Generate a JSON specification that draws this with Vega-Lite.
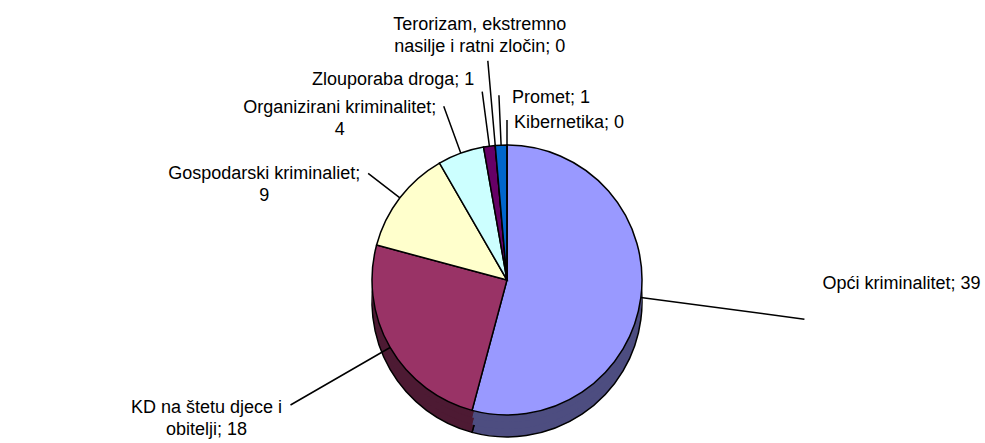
{
  "$schema": "https://vega.github.io/schema/vega-lite/v6.json",
  "width": 956,
  "height": 326,
  "autosize": {"type": "none"},
  "padding": {"left": 29, "top": 117, "right": 0, "bottom": 0},
  "background": "white",
  "config": {"view": {"stroke": null}},
  "data": {"values": [
    {"category": "Opći kriminalitet", "value": 39, "label": "Opći kriminalitet; 39"},
    {"category": "KD na štetu djece i obitelji", "value": 18, "label": "KD na štetu djece i\nobitelji; 18"},
    {"category": "Gospodarski kriminaliet", "value": 9, "label": "Gospodarski kriminaliet;\n9"},
    {"category": "Organizirani kriminalitet", "value": 4, "label": "Organizirani kriminalitet;\n4"},
    {"category": "Zlouporaba droga", "value": 1, "label": "Zlouporaba droga; 1"},
    {"category": "Terorizam, ekstremno nasilje i ratni zločin", "value": 0, "label": "Terorizam, ekstremno\nnasilje i ratni zločin; 0"},
    {"category": "Promet", "value": 1, "label": "Promet; 1"},
    {"category": "Kibernetika", "value": 0, "label": "Kibernetika; 0"}
  ]},
  "transform": [{"window": [{"op": "row_number", "as": "idx"}]}],
  "resolve": {"scale": {"theta": "independent"}},
  "layer": [
    {
      "mark": {"type": "arc", "radius": 135, "yOffset": 22, "stroke": "black", "strokeWidth": 1.5},
      "encoding": {
        "theta": {"field": "value", "type": "quantitative", "stack": true},
        "order": {"field": "idx", "type": "quantitative"},
        "fill": {"field": "category", "type": "nominal", "legend": null,
          "scale": {"domain": ["Opći kriminalitet", "KD na štetu djece i obitelji", "Gospodarski kriminaliet", "Organizirani kriminalitet", "Zlouporaba droga", "Terorizam, ekstremno nasilje i ratni zločin", "Promet", "Kibernetika"],
                    "range": ["#4D4D80", "#4D1A33", "#808066", "#668080", "#330033", "#804040", "#003366", "#666680"]}}
      }
    },
    {
      "mark": {"type": "arc", "radius": 135, "yOffset": 14, "strokeWidth": 0},
      "encoding": {
        "theta": {"field": "value", "type": "quantitative", "stack": true},
        "order": {"field": "idx", "type": "quantitative"},
        "fill": {"field": "category", "type": "nominal", "legend": null}
      }
    },
    {
      "mark": {"type": "arc", "radius": 135, "yOffset": 7, "strokeWidth": 0},
      "encoding": {
        "theta": {"field": "value", "type": "quantitative", "stack": true},
        "order": {"field": "idx", "type": "quantitative"},
        "fill": {"field": "category", "type": "nominal", "legend": null}
      }
    },
    {
      "mark": {"type": "arc", "radius": 135, "stroke": "black", "strokeWidth": 1.5},
      "encoding": {
        "theta": {"field": "value", "type": "quantitative", "stack": true},
        "order": {"field": "idx", "type": "quantitative"},
        "color": {"field": "category", "type": "nominal", "legend": null,
          "scale": {"domain": ["Opći kriminalitet", "KD na štetu djece i obitelji", "Gospodarski kriminaliet", "Organizirani kriminalitet", "Zlouporaba droga", "Terorizam, ekstremno nasilje i ratni zločin", "Promet", "Kibernetika"],
                    "range": ["#9999FF", "#993366", "#FFFFCC", "#CCFFFF", "#660066", "#FF8080", "#0066CC", "#CCCCFF"]}}
      }
    },
    {
      "mark": {"type": "arc", "radius": 300, "radius2": 135, "padAngle": 3.1416, "fillOpacity": 0, "stroke": "black", "strokeWidth": 1.5},
      "encoding": {
        "theta": {"field": "value", "type": "quantitative", "stack": true, "scale": {"range": [1.6995, 1.7075]}},
        "order": {"field": "idx", "type": "quantitative"},
        "strokeOpacity": {"condition": {"test": "datum.category === 'Opći kriminalitet'", "value": 1}, "value": 0}
      }
    },
    {
      "mark": {"type": "arc", "radius": 250, "radius2": 135, "padAngle": 3.1416, "fillOpacity": 0, "stroke": "black", "strokeWidth": 1.5},
      "encoding": {
        "theta": {"field": "value", "type": "quantitative", "stack": true},
        "order": {"field": "idx", "type": "quantitative"},
        "strokeOpacity": {"condition": {"test": "datum.category === 'KD na štetu djece i obitelji'", "value": 1}, "value": 0}
      }
    },
    {
      "mark": {"type": "arc", "radius": 175, "radius2": 135, "padAngle": 3.1416, "fillOpacity": 0, "stroke": "black", "strokeWidth": 1.5},
      "encoding": {
        "theta": {"field": "value", "type": "quantitative", "stack": true},
        "order": {"field": "idx", "type": "quantitative"},
        "strokeOpacity": {"condition": {"test": "datum.category === 'Gospodarski kriminaliet'", "value": 1}, "value": 0}
      }
    },
    {
      "mark": {"type": "arc", "radius": 185, "radius2": 135, "padAngle": 3.1416, "fillOpacity": 0, "stroke": "black", "strokeWidth": 1.5},
      "encoding": {
        "theta": {"field": "value", "type": "quantitative", "stack": true},
        "order": {"field": "idx", "type": "quantitative"},
        "strokeOpacity": {"condition": {"test": "datum.category === 'Organizirani kriminalitet' || datum.category === 'Promet'", "value": 1}, "value": 0}
      }
    },
    {
      "mark": {"type": "arc", "radius": 190, "radius2": 135, "padAngle": 3.1416, "fillOpacity": 0, "stroke": "black", "strokeWidth": 1.5},
      "encoding": {
        "theta": {"field": "value", "type": "quantitative", "stack": true},
        "order": {"field": "idx", "type": "quantitative"},
        "strokeOpacity": {"condition": {"test": "datum.category === 'Zlouporaba droga'", "value": 1}, "value": 0}
      }
    },
    {
      "mark": {"type": "arc", "radius": 220, "radius2": 135, "padAngle": 3.1416, "fillOpacity": 0, "stroke": "black", "strokeWidth": 1.5},
      "encoding": {
        "theta": {"field": "value", "type": "quantitative", "stack": true},
        "order": {"field": "idx", "type": "quantitative"},
        "strokeOpacity": {"condition": {"test": "datum.category === 'Terorizam, ekstremno nasilje i ratni zločin'", "value": 1}, "value": 0}
      }
    },
    {
      "mark": {"type": "arc", "radius": 160, "radius2": 135, "padAngle": 3.1416, "fillOpacity": 0, "stroke": "black", "strokeWidth": 1.5},
      "encoding": {
        "theta": {"field": "value", "type": "quantitative", "stack": true},
        "order": {"field": "idx", "type": "quantitative"},
        "strokeOpacity": {"condition": {"test": "datum.category === 'Kibernetika'", "value": 1}, "value": 0}
      }
    },
    {
      "mark": {"type": "text", "radius": 300, "dx": 18, "dy": -35, "align": "left", "baseline": "middle", "fontSize": 18, "font": "Liberation Sans", "lineBreak": "\n", "lineHeight": 22, "color": "black"},
      "encoding": {
        "theta": {"field": "value", "type": "quantitative", "stack": true},
        "order": {"field": "idx", "type": "quantitative"},
        "text": {"condition": {"test": "datum.category === 'Opći kriminalitet'", "field": "label", "type": "nominal"}, "value": ""}
      }
    },
    {
      "mark": {"type": "text", "radius": 250, "dx": -84, "dy": 3, "align": "center", "baseline": "middle", "fontSize": 18, "font": "Liberation Sans", "lineBreak": "\n", "lineHeight": 22, "color": "black"},
      "encoding": {
        "theta": {"field": "value", "type": "quantitative", "stack": true},
        "order": {"field": "idx", "type": "quantitative"},
        "text": {"condition": {"test": "datum.category === 'KD na štetu djece i obitelji'", "field": "label", "type": "nominal"}, "value": ""}
      }
    },
    {
      "mark": {"type": "text", "radius": 175, "dx": -104, "dy": 1, "align": "center", "baseline": "middle", "fontSize": 18, "font": "Liberation Sans", "lineBreak": "\n", "lineHeight": 22, "color": "black"},
      "encoding": {
        "theta": {"field": "value", "type": "quantitative", "stack": true},
        "order": {"field": "idx", "type": "quantitative"},
        "text": {"condition": {"test": "datum.category === 'Gospodarski kriminaliet'", "field": "label", "type": "nominal"}, "value": ""}
      }
    },
    {
      "mark": {"type": "text", "radius": 185, "dx": -104, "dy": 2, "align": "center", "baseline": "middle", "fontSize": 18, "font": "Liberation Sans", "lineBreak": "\n", "lineHeight": 22, "color": "black"},
      "encoding": {
        "theta": {"field": "value", "type": "quantitative", "stack": true},
        "order": {"field": "idx", "type": "quantitative"},
        "text": {"condition": {"test": "datum.category === 'Organizirani kriminalitet'", "field": "label", "type": "nominal"}, "value": ""}
      }
    },
    {
      "mark": {"type": "text", "radius": 190, "dx": -8, "dy": -12, "align": "right", "baseline": "middle", "fontSize": 18, "font": "Liberation Sans", "lineBreak": "\n", "lineHeight": 22, "color": "black"},
      "encoding": {
        "theta": {"field": "value", "type": "quantitative", "stack": true},
        "order": {"field": "idx", "type": "quantitative"},
        "text": {"condition": {"test": "datum.category === 'Zlouporaba droga'", "field": "label", "type": "nominal"}, "value": ""}
      }
    },
    {
      "mark": {"type": "text", "radius": 220, "dx": -8, "dy": -36, "align": "center", "baseline": "middle", "fontSize": 18, "font": "Liberation Sans", "lineBreak": "\n", "lineHeight": 22, "color": "black"},
      "encoding": {
        "theta": {"field": "value", "type": "quantitative", "stack": true},
        "order": {"field": "idx", "type": "quantitative"},
        "text": {"condition": {"test": "datum.category === 'Terorizam, ekstremno nasilje i ratni zločin'", "field": "label", "type": "nominal"}, "value": ""}
      }
    },
    {
      "mark": {"type": "text", "radius": 185, "dx": 13, "dy": 3, "align": "left", "baseline": "middle", "fontSize": 18, "font": "Liberation Sans", "lineBreak": "\n", "lineHeight": 22, "color": "black"},
      "encoding": {
        "theta": {"field": "value", "type": "quantitative", "stack": true},
        "order": {"field": "idx", "type": "quantitative"},
        "text": {"condition": {"test": "datum.category === 'Promet'", "field": "label", "type": "nominal"}, "value": ""}
      }
    },
    {
      "mark": {"type": "text", "radius": 160, "dx": 7, "dy": 3, "align": "left", "baseline": "middle", "fontSize": 18, "font": "Liberation Sans", "lineBreak": "\n", "lineHeight": 22, "color": "black"},
      "encoding": {
        "theta": {"field": "value", "type": "quantitative", "stack": true},
        "order": {"field": "idx", "type": "quantitative"},
        "text": {"condition": {"test": "datum.category === 'Kibernetika'", "field": "label", "type": "nominal"}, "value": ""}
      }
    }
  ]
}
